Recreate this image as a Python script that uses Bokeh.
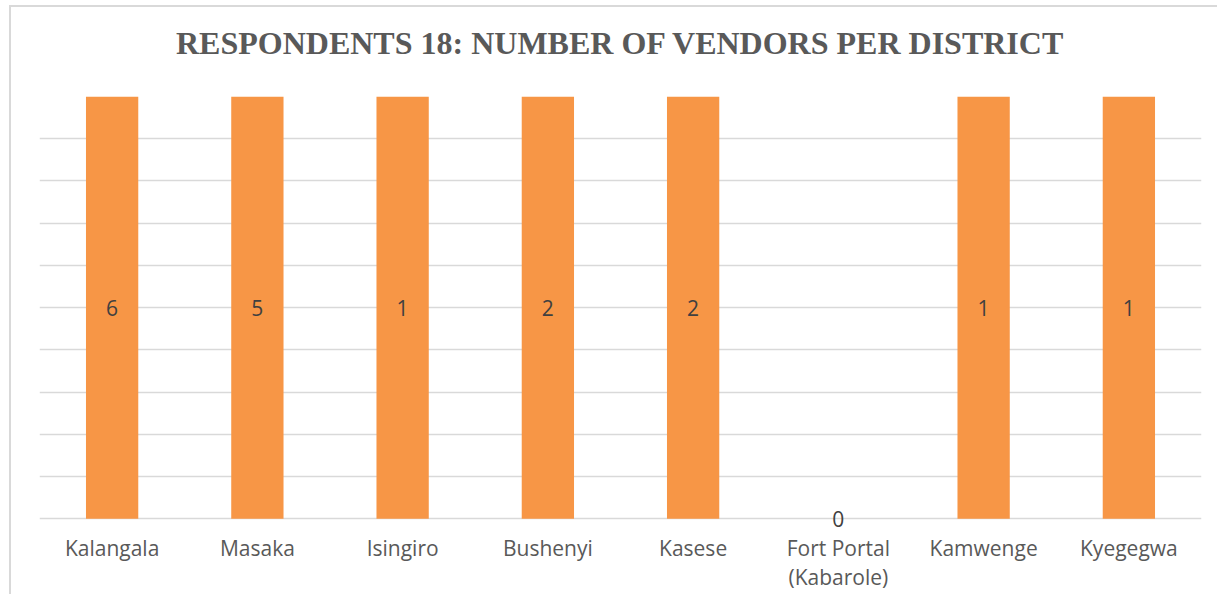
from bokeh.plotting import figure
from bokeh.models import Range1d, FixedTicker, ColumnDataSource, LabelSet
from bokeh.core.properties import value
from bokeh.embed import file_html
from bokeh.resources import INLINE

districts = ["Kalangala", "Masaka", "Isingiro", "Bushenyi", "Kasese",
             "Fort Portal\n(Kabarole)", "Kamwenge", "Kyegegwa"]
vendors = [6, 5, 1, 2, 2, 0, 1, 1]
pct_ticks = [0.0, 0.1, 0.2, 0.3, 0.4, 0.5, 0.6, 0.7, 0.8, 0.9, 1.0]
title_text = "RESPONDENTS 18: NUMBER OF VENDORS PER DISTRICT"

# 100% stacked column with a single series: each non-zero bar fills the full height
share = [1.0 if v > 0 else 0.0 for v in vendors]
label_y = [s / 2 for s in share]

src = ColumnDataSource(dict(d=districts, v=vendors, share=share,
                            ly=label_y, lbl=[str(v) for v in vendors]))

# small negative start leaves room for the "0" label that straddles the axis line
p = figure(x_range=districts, y_range=Range1d(-0.03, 1),
           frame_width=1162, frame_height=435,
           min_border_left=28, min_border_right=16,
           min_border_top=89, min_border_bottom=63,
           output_backend="svg", toolbar_location=None,
           title=title_text + "\n ")

p.title.text_font = "Liberation Serif"
p.title.text_font_size = "32px"
p.title.text_font_style = "bold"
p.title.text_color = "#595959"
p.title.align = "center"
p.title.standoff = 0

p.vbar(x="d", top="share", bottom=0, width=0.36, source=src,
       fill_color="#F79646", line_color=None)

labels = LabelSet(x="d", y="ly", text="lbl", source=src,
                  text_align="center", text_baseline="middle",
                  text_font=value("Open Sans"), text_font_size=value("21px"),
                  text_color=value("#404040"))
p.add_layout(labels)

p.outline_line_color = None
p.xgrid.grid_line_color = None
p.ygrid.ticker = FixedTicker(ticks=pct_ticks)
p.ygrid.grid_line_color = "#d9d9d9"
p.ygrid.grid_line_width = 1.5

p.yaxis.visible = False

p.xaxis.axis_line_color = None
p.xaxis.major_tick_line_color = None
p.xaxis.minor_tick_line_color = None
p.xaxis.major_label_text_font = "Open Sans"
p.xaxis.major_label_text_font_size = "21px"
p.xaxis.major_label_text_color = "#595959"
p.xaxis.major_label_text_line_height = 1.05
p.xaxis.major_label_standoff = -4

p.styles = {"border-left": "2px solid #d9d9d9", "border-top": "2px solid #d9d9d9",
            "margin-left": "9px", "margin-top": "5px"}

open("out.html", "w").write(file_html(p, INLINE))
